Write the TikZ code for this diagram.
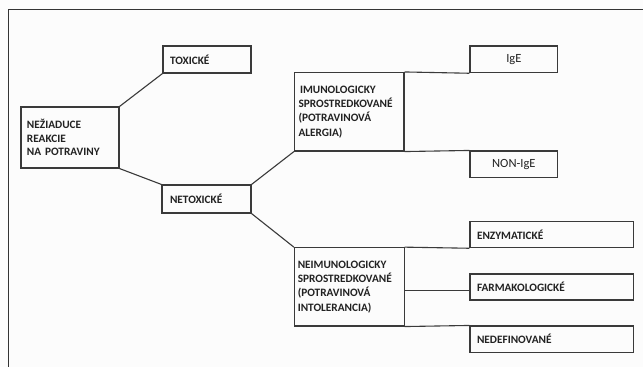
\documentclass[tikz,border=0pt]{standalone}
\usepackage{fontspec}
\setmainfont{Carlito}
\usetikzlibrary{calc}
\definecolor{ln}{HTML}{3A3A3A}
\definecolor{tx}{HTML}{222222}
\begin{document}
\begin{tikzpicture}[x=1pt,y=-1pt,
  box/.style={draw=ln,line width=1.1pt,rectangle,inner xsep=6pt,inner ysep=0pt,
    align=left,text=tx,font=\fontsize{11.3}{14}\selectfont\bfseries},
  cbox/.style={draw=ln,line width=1.1pt,rectangle,inner sep=0pt,align=center,
    text=tx,font=\fontsize{12.5}{14}\selectfont},
  conn/.style={draw=ln,line width=1.1pt}]
\fill[white!99!black] (0,0) rectangle (643,367);
\useasboundingbox (0,0) rectangle (643,367);
\draw[line width=1.5pt,draw=ln!90!black] (8.7,367) -- (8.7,9.7) -- (643,9.7);
\node[box,minimum width=98pt,minimum height=61pt,text width=86pt,font=\fontsize{11.3}{13.5}\selectfont\bfseries] (nez) at (70,137.5)
  {NEŽIADUCE\\REAKCIE\\NA POTRAVINY};
\node[box,minimum width=88pt,minimum height=27pt,text width=74pt,inner xsep=7pt] (tox) at (207,59.5) {TOXICKÉ};
\node[box,minimum width=87pt,minimum height=28pt,text width=73pt,inner xsep=8pt] (netox) at (206.5,199) {NETOXICKÉ};
\node[box,minimum width=109.5pt,minimum height=78.5pt,text width=101.5pt,inner xsep=4pt,font=\fontsize{11.3}{14.4}\selectfont\bfseries] (imun) at (349.25,111.75)
  {\hspace{1.5pt}IMUNOLOGICKY\\SPROSTREDKOVANÉ\\(POTRAVINOVÁ\\ALERGIA)};
\node[cbox,minimum width=87.7pt,minimum height=26.7pt] (ige) at (513.85,59.35) {IgE};
\node[cbox,minimum width=87.7pt,minimum height=26.7pt] (nonige) at (513.85,164.35) {NON-IgE};
\node[box,minimum width=109.5pt,minimum height=78.3pt,text width=103pt,inner xsep=3.3pt,font=\fontsize{11.3}{14.2}\selectfont\bfseries] (neimun) at (349.25,286.85)
  {NEIMUNOLOGICKY\\SPROSTREDKOVANÉ\\(POTRAVINOVÁ\\INTOLERANCIA)};
\node[box,minimum width=163.3pt,minimum height=26pt,text width=149.3pt,inner xsep=7pt] (enz) at (551.65,234.7) {ENZYMATICKÉ};
\node[box,minimum width=163.3pt,minimum height=26pt,text width=149.3pt,inner xsep=7pt] (farm) at (551.65,287) {FARMAKOLOGICKÉ};
\node[box,minimum width=163.3pt,minimum height=26.3pt,text width=149.3pt,inner xsep=7pt] (nedef) at (551.65,339.15) {NEDEFINOVANÉ};
\draw[conn] (nez.north east) -- (tox.south west);
\draw[conn] (nez.south east) -- (netox.north west);
\draw[conn] (netox.north east) -- (imun.south west);
\draw[conn] (netox.south east) -- (neimun.north west);
\draw[conn] (imun.north east) -- (ige.south west);
\draw[conn] (imun.south east) -- (nonige.north west);
\draw[conn] (neimun.north east) -- (enz.south west);
\draw[conn] (neimun.south east) -- (nedef.north west);
\coordinate (fj) at ($(neimun.north east)!0.55!(neimun.south east)$);
\draw[conn] (fj) -- (fj -| farm.west);
\end{tikzpicture}
\end{document}
